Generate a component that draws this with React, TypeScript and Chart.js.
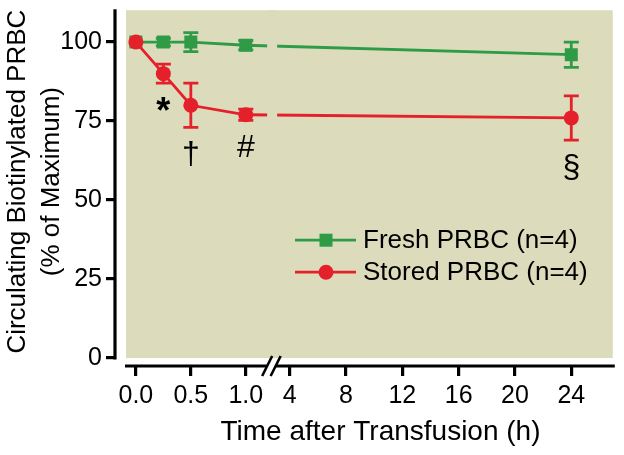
import React, { useEffect, useRef } from 'react';
import { Chart, registerables } from 'chart.js';

Chart.register(...registerables);

// ---- data ----
const seriesNames = ['Fresh PRBC (n=4)', 'Stored PRBC (n=4)'];
const timesH = [0, 0.25, 0.5, 1, 24];
const freshMean = [100, 100, 100, 99, 96];
const freshErr = [0, 1.2, 3, 1.5, 4];
const storedMean = [100, 90, 80, 77, 76];
const storedErr = [0, 3, 7, 1.8, 7];
const storedMarks = ['', '*', '†', '#', '§'];
const xTickHours = [0, 0.5, 1, 4, 8, 12, 16, 20, 24];
const xTickLabels = ['0.0', '0.5', '1.0', '4', '8', '12', '16', '20', '24'];
const yTickValues = [0, 25, 50, 75, 100];
const yTitleLines = ['Circulating Biotinylated PRBC', '(% of Maximum)'];
const xTitle = 'Time after Transfusion (h)';

// ---- broken-axis mapping (hours -> axis units) ----
const BREAK_U = 1.24;
const SEG2_START_H = 2.75;
const SEG2_SCALE = 0.1281;
function toAxis(h: number): number {
  return h <= BREAK_U ? h : BREAK_U + (h - SEG2_START_H) * SEG2_SCALE;
}

const GREEN = '#2f9b47';
const RED = '#e4202b';
const BG = '#dcdcbc';
const FAMILY = '"Liberation Sans", Arial, Helvetica, sans-serif';

const bgPlugin = {
  id: 'bgPanel',
  beforeDraw(chart: any) {
    const { ctx, chartArea: a, scales } = chart;
    const y0 = scales.y.getPixelForValue(0);
    ctx.save();
    ctx.fillStyle = BG;
    ctx.fillRect(a.left + 11, a.top + 1, a.right - 2 - (a.left + 11), y0 - a.top - 1);
    ctx.restore();
  },
};

const overlayPlugin = {
  id: 'overlay',
  afterDatasetsDraw(chart: any) {
    const { ctx, chartArea: a, scales } = chart;
    const x = scales.x;
    const y = scales.y;
    const y0 = y.getPixelForValue(0);
    // gap in the lines at the axis break
    const bx = x.getPixelForValue(BREAK_U);
    ctx.save();
    ctx.fillStyle = BG;
    ctx.fillRect(bx - 5, a.top + 1, 10, y0 - a.top - 1);

    // error bars
    const sets = [
      { mean: storedMean, err: storedErr, color: RED },
      { mean: freshMean, err: freshErr, color: GREEN },
    ];
    ctx.lineWidth = 2.8;
    sets.forEach((s) => {
      ctx.strokeStyle = s.color;
      timesH.forEach((t, i) => {
        if (!s.err[i]) return;
        const px = x.getPixelForValue(toAxis(t));
        const hi = y.getPixelForValue(s.mean[i] + s.err[i]);
        const lo = y.getPixelForValue(s.mean[i] - s.err[i]);
        ctx.beginPath();
        ctx.moveTo(px, hi);
        ctx.lineTo(px, lo);
        ctx.moveTo(px - 7.5, hi);
        ctx.lineTo(px + 7.5, hi);
        ctx.moveTo(px - 7.5, lo);
        ctx.lineTo(px + 7.5, lo);
        ctx.stroke();
      });
    });

    // significance marks under stored series
    ctx.fillStyle = '#000';
    ctx.textAlign = 'center';
    ctx.textBaseline = 'top';
    timesH.forEach((t, i) => {
      const m = storedMarks[i];
      if (!m) return;
      ctx.font = m === '*' ? 'bold 36px ' + FAMILY : '32px ' + FAMILY;
      const px = x.getPixelForValue(toAxis(t));
      const lo = y.getPixelForValue(storedMean[i] - storedErr[i]);
      ctx.fillText(m, px, lo + 12);
    });
    ctx.restore();
  },
  afterDraw(chart: any) {
    const { ctx, chartArea: a, scales } = chart;
    const x = scales.x;
    const y = scales.y;
    const y0 = y.getPixelForValue(0);
    ctx.save();
    ctx.strokeStyle = '#000';
    ctx.lineWidth = 3.2;
    // y axis line
    ctx.beginPath();
    ctx.moveTo(a.left, a.top);
    ctx.lineTo(a.left, y0 + 1.5);
    ctx.stroke();
    // x axis line
    ctx.beginPath();
    ctx.moveTo(a.left + 10, a.bottom);
    ctx.lineTo(a.right, a.bottom);
    ctx.stroke();
    // axis break
    const bx = x.getPixelForValue(BREAK_U);
    ctx.fillStyle = '#fff';
    ctx.fillRect(bx - 5, a.bottom - 2.5, 8.5, 5);
    ctx.lineWidth = 2.6;
    [bx - 5, bx + 3.5].forEach((cx) => {
      ctx.beginPath();
      ctx.moveTo(cx - 5, a.bottom + 10);
      ctx.lineTo(cx + 5, a.bottom - 10);
      ctx.stroke();
    });

    // legend
    const rows = [
      { label: seriesNames[0], color: GREEN, style: 'rect' },
      { label: seriesNames[1], color: RED, style: 'circle' },
    ];
    const lx = a.left + 180;
    rows.forEach((r, i) => {
      const ly = a.top + 231 + i * 32;
      ctx.strokeStyle = r.color;
      ctx.fillStyle = r.color;
      ctx.lineWidth = 2.8;
      ctx.beginPath();
      ctx.moveTo(lx, ly);
      ctx.lineTo(lx + 61, ly);
      ctx.stroke();
      if (r.style === 'rect') {
        ctx.fillRect(lx + 31 - 6.5, ly - 6.5, 13, 13);
      } else {
        ctx.beginPath();
        ctx.arc(lx + 31, ly, 7.5, 0, Math.PI * 2);
        ctx.fill();
      }
      ctx.fillStyle = '#000';
      ctx.font = '26px ' + FAMILY;
      ctx.textAlign = 'left';
      ctx.textBaseline = 'middle';
      ctx.fillText(r.label, lx + 68, ly + 1);
    });

    // axis titles
    ctx.fillStyle = '#000';
    ctx.textAlign = 'center';
    ctx.textBaseline = 'middle';
    ctx.font = '28px ' + FAMILY;
    ctx.fillText(xTitle, 380.5, a.bottom + 66);
    ctx.font = '26px ' + FAMILY;
    const cy = (a.top + y0) / 2 - 2;
    yTitleLines.forEach((line, i) => {
      ctx.save();
      ctx.translate(17.5 + i * 34, cy);
      ctx.rotate(-Math.PI / 2);
      ctx.fillText(line, 0, 0);
      ctx.restore();
    });
    ctx.restore();
  },
};

export default function App() {
  const ref = useRef<HTMLCanvasElement | null>(null);
  useEffect(() => {
    if (!ref.current) return;
    const tickFont = { family: FAMILY, size: 25 };
    const chart = new Chart(ref.current, {
      type: 'line',
      data: {
        datasets: [
          {
            label: seriesNames[1],
            data: timesH.map((t, i) => ({ x: toAxis(t), y: storedMean[i] })),
            borderColor: RED,
            backgroundColor: RED,
            pointBackgroundColor: RED,
            pointBorderColor: RED,
            pointStyle: 'circle',
            pointRadius: 7.5,
            pointBorderWidth: 0,
            borderWidth: 2.8,
            tension: 0,
          },
          {
            label: seriesNames[0],
            data: timesH.map((t, i) => ({ x: toAxis(t), y: freshMean[i] })),
            borderColor: GREEN,
            backgroundColor: GREEN,
            pointBackgroundColor: GREEN,
            pointBorderColor: GREEN,
            pointStyle: 'rect',
            pointRadius: 9.2,
            pointBorderWidth: 0,
            borderWidth: 2.8,
            tension: 0,
          },
        ],
      },
      options: {
        responsive: false,
        animation: false,
        events: [],
        layout: { padding: { top: 7, right: 6, left: 0, bottom: 0 } },
        plugins: { legend: { display: false }, tooltip: { enabled: false } },
        scales: {
          x: {
            type: 'linear',
            min: -0.19,
            max: 4.358,
            afterFit: (s: any) => {
              s.height = 89;
              s.paddingLeft = 0;
              s.paddingRight = 0;
            },
            afterBuildTicks: (s: any) => {
              s.ticks = xTickHours.map((h) => ({ value: toAxis(h) }));
            },
            ticks: {
              callback: (_v: any, i: number) => xTickLabels[i],
              font: tickFont,
              color: '#000',
              padding: 5,
              maxRotation: 0,
              autoSkip: false,
            },
            grid: { drawOnChartArea: false, drawTicks: true, tickLength: 10, color: '#000', lineWidth: 3.2 },
            border: { display: false },
          },
          y: {
            type: 'linear',
            min: -2.5,
            max: 110.4,
            afterFit: (s: any) => {
              s.width = 115;
              s.paddingTop = 0;
              s.paddingBottom = 0;
            },
            afterBuildTicks: (s: any) => {
              s.ticks = yTickValues.map((v) => ({ value: v }));
            },
            ticks: {
              callback: (v: any) => String(v),
              font: tickFont,
              color: '#000',
              padding: 4,
              autoSkip: false,
            },
            grid: { drawOnChartArea: false, drawTicks: true, tickLength: 9, color: '#000', lineWidth: 3.2 },
            border: { display: false },
          },
        },
      },
      plugins: [bgPlugin, overlayPlugin],
    } as any);
    return () => chart.destroy();
  }, []);
  return (
    <div style={{ position: 'absolute', left: 0, top: 0, width: 624, height: 455, background: '#fff' }}>
      <canvas ref={ref} width={624} height={455} style={{ width: 624, height: 455, display: 'block' }} />
    </div>
  );
}
